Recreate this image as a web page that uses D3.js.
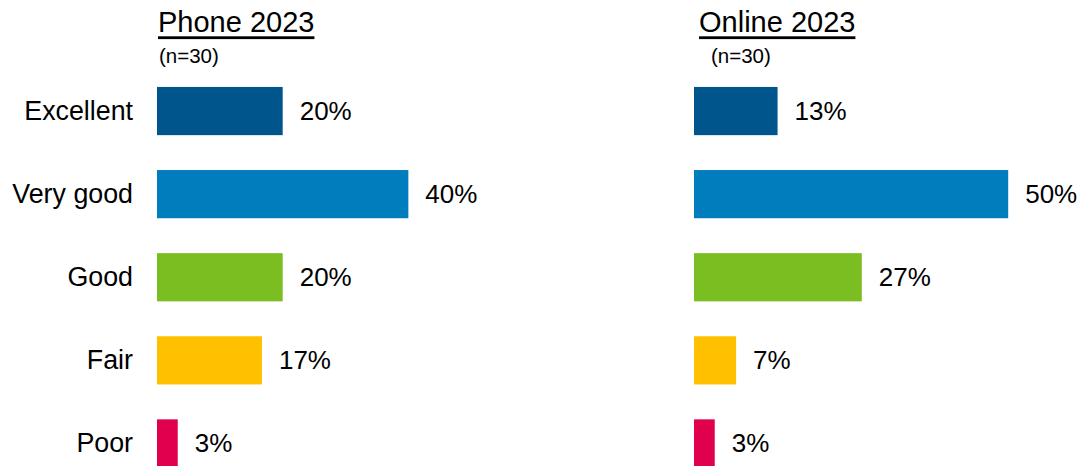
<!DOCTYPE html>
<html>
<head>
<meta charset="utf-8">
<script src="https://cdn.jsdelivr.net/npm/d3@7"></script>
<style>
html,body{margin:0;padding:0;background:#fff;}
svg text{font-family:"Liberation Sans",Arial,sans-serif;fill:#000;}
</style>
</head>
<body>
<svg id="chart" width="1084" height="466"></svg>
<script>
const categories = ["Excellent","Very good","Good","Fair","Poor"];
const colors = ["#00568C","#007DBC","#7ABE22","#FFC000","#E1004E"];
const phoneValues = [20, 40, 20, 16.7, 3.3];
const onlineValues = [13.3, 50, 26.7, 6.7, 3.3];
const panelTitles = ["Phone 2023","Online 2023"];
const sampleLabels = ["(n=30)","(n=30)"];

const svg = d3.select("#chart");
const x = d3.scaleLinear().domain([0, 50]).range([0, 314.2]);
const y = d3.scaleBand().domain(categories).range([69.5, 485]).paddingInner(0.42).paddingOuter(0.21);
const color = d3.scaleOrdinal().domain(categories).range(colors);

const panels = [
  {x0: 157, values: phoneValues, title: panelTitles[0], n: sampleLabels[0], tx: 158, nx: 159},
  {x0: 694, values: onlineValues, title: panelTitles[1], n: sampleLabels[1], tx: 699, nx: 711}
];

// category labels
svg.append("g").selectAll("text").data(categories).join("text")
  .attr("x", 133)
  .attr("y", d => y(d) + y.bandwidth()/2)
  .attr("dy", "0.32em")
  .attr("text-anchor", "end")
  .style("font-size", "26.8px")
  .text(d => d);

panels.forEach(p => {
  const g = svg.append("g");
  const t = g.append("text").attr("x", p.tx).attr("y", 32)
    .style("font-size", "29px").text(p.title);
  const w = t.node().getComputedTextLength();
  g.append("rect").attr("x", p.tx).attr("y", 36.3).attr("width", w).attr("height", 2.8).attr("fill", "#000");
  g.append("text").attr("x", p.nx).attr("y", 63).style("font-size", "20.5px").text(p.n);

  const data = categories.map((c, i) => ({c, v: p.values[i]}));
  g.selectAll("rect.bar").data(data).join("rect")
    .attr("class", "bar")
    .attr("x", p.x0)
    .attr("y", d => y(d.c))
    .attr("width", d => x(d.v))
    .attr("height", y.bandwidth())
    .attr("fill", d => color(d.c));
  g.selectAll("text.val").data(data).join("text")
    .attr("class", "val")
    .attr("x", d => p.x0 + x(d.v) + 17)
    .attr("y", d => y(d.c) + y.bandwidth()/2)
    .attr("dy", "0.33em")
    .style("font-size", "26px")
    .text(d => Math.round(d.v) + "%");
});
</script>
</body>
</html>
